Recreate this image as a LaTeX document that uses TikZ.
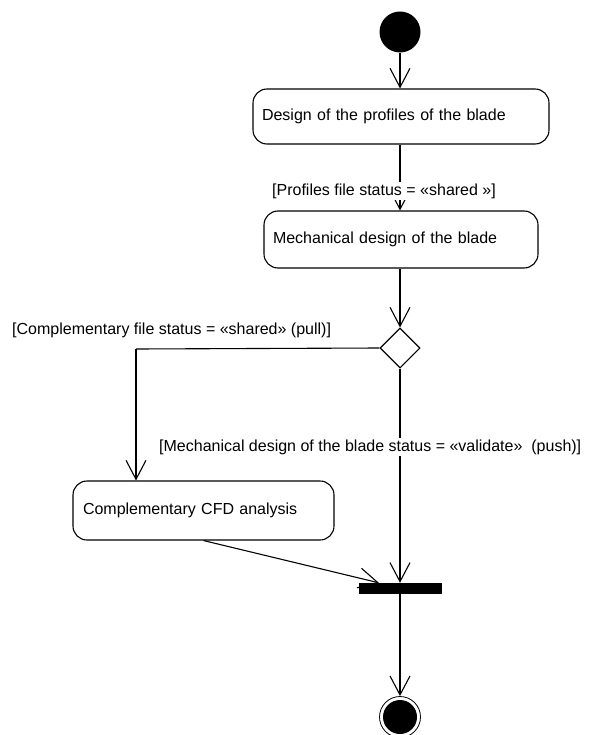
\documentclass[tikz,border=0pt]{standalone}
\usepackage{fontspec}
\setmainfont{Liberation Sans}
\usetikzlibrary{arrows.meta,shapes.geometric,calc}
\tikzset{
  conn/.style={line width=1.1pt,draw=black},
  arr/.style={conn,-{Straight Barb[length=19pt,width=20pt,line width=1.1pt]}},
  actbox/.style={draw=black,line width=1.1pt,rectangle,rounded corners=14pt,
    inner xsep=9pt,inner ysep=0pt,align=left,font=\fontsize{16}{19}\selectfont},
  guard/.style={fill=white,inner xsep=1pt,inner ysep=2pt,font=\fontsize{16}{19}\selectfont},
  bar/.style={fill=black,draw=none,minimum width=82.5pt,minimum height=11pt,inner sep=0pt},
}
\begin{document}
\begin{tikzpicture}[x=1pt,y=-1pt]
\useasboundingbox (0,0) rectangle (589,735);
% initial node
\node[circle,fill=black,minimum size=41pt,inner sep=0pt] (start) at (400,32) {};
% activities
\node[actbox,minimum width=296pt,minimum height=55pt,text width=278pt] (b1) at (401,116.5) {Design of the profiles of the blade};
\node[actbox,minimum width=272pt,minimum height=57pt,text width=256pt] (b2) at (401,239.5) {Mechanical design of the blade};
\node[draw=black,line width=1.1pt,diamond,aspect=1,minimum size=40pt,inner sep=0pt] (dia) at (400,348) {};
\node[actbox,minimum width=261pt,minimum height=59pt,text width=241pt] (b3) at (203.5,510.5) {Complementary CFD analysis};
\node[bar] (join) at (400.3,588.5) {};
% final node
\node[circle,draw=black,line width=0.8pt,minimum size=41pt,inner sep=0pt] (fin) at (400,717) {};
\node[circle,fill=black,minimum size=34pt,inner sep=0pt] (finc) at (400,717) {};
% connectors
\coordinate (c1) at (136,349);
\coordinate (jin) at ($(join.north west)+(20,0)$);
\draw[arr] (start.south) -- (b1.north -| start.south);
\draw[arr] (b1.south -| start.south) -- (b2.north -| start.south);
\draw[arr] (b2.south -| start.south) -- (dia.north);
\draw[conn] (dia.west) -- (c1);
\draw[arr] (c1) -- (c1 |- b3.north);
\draw[arr] (dia.south) -- (join.north -| dia.south);
\draw[arr] (b3.south) -- (jin);
\draw[arr] (join.south -| dia.south) -- (fin.north);
% guards
\node[guard] (g1) at (384,191) {[Profiles file status = «shared »]};
\node[guard,anchor=west] (g2) at (11,330) {[Complementary file status = «shared» (pull)]};
\node[guard,anchor=west] (g3) at (158,447) {[Mechanical design of the blade status = «validate» \ (push)]};
\end{tikzpicture}
\end{document}
